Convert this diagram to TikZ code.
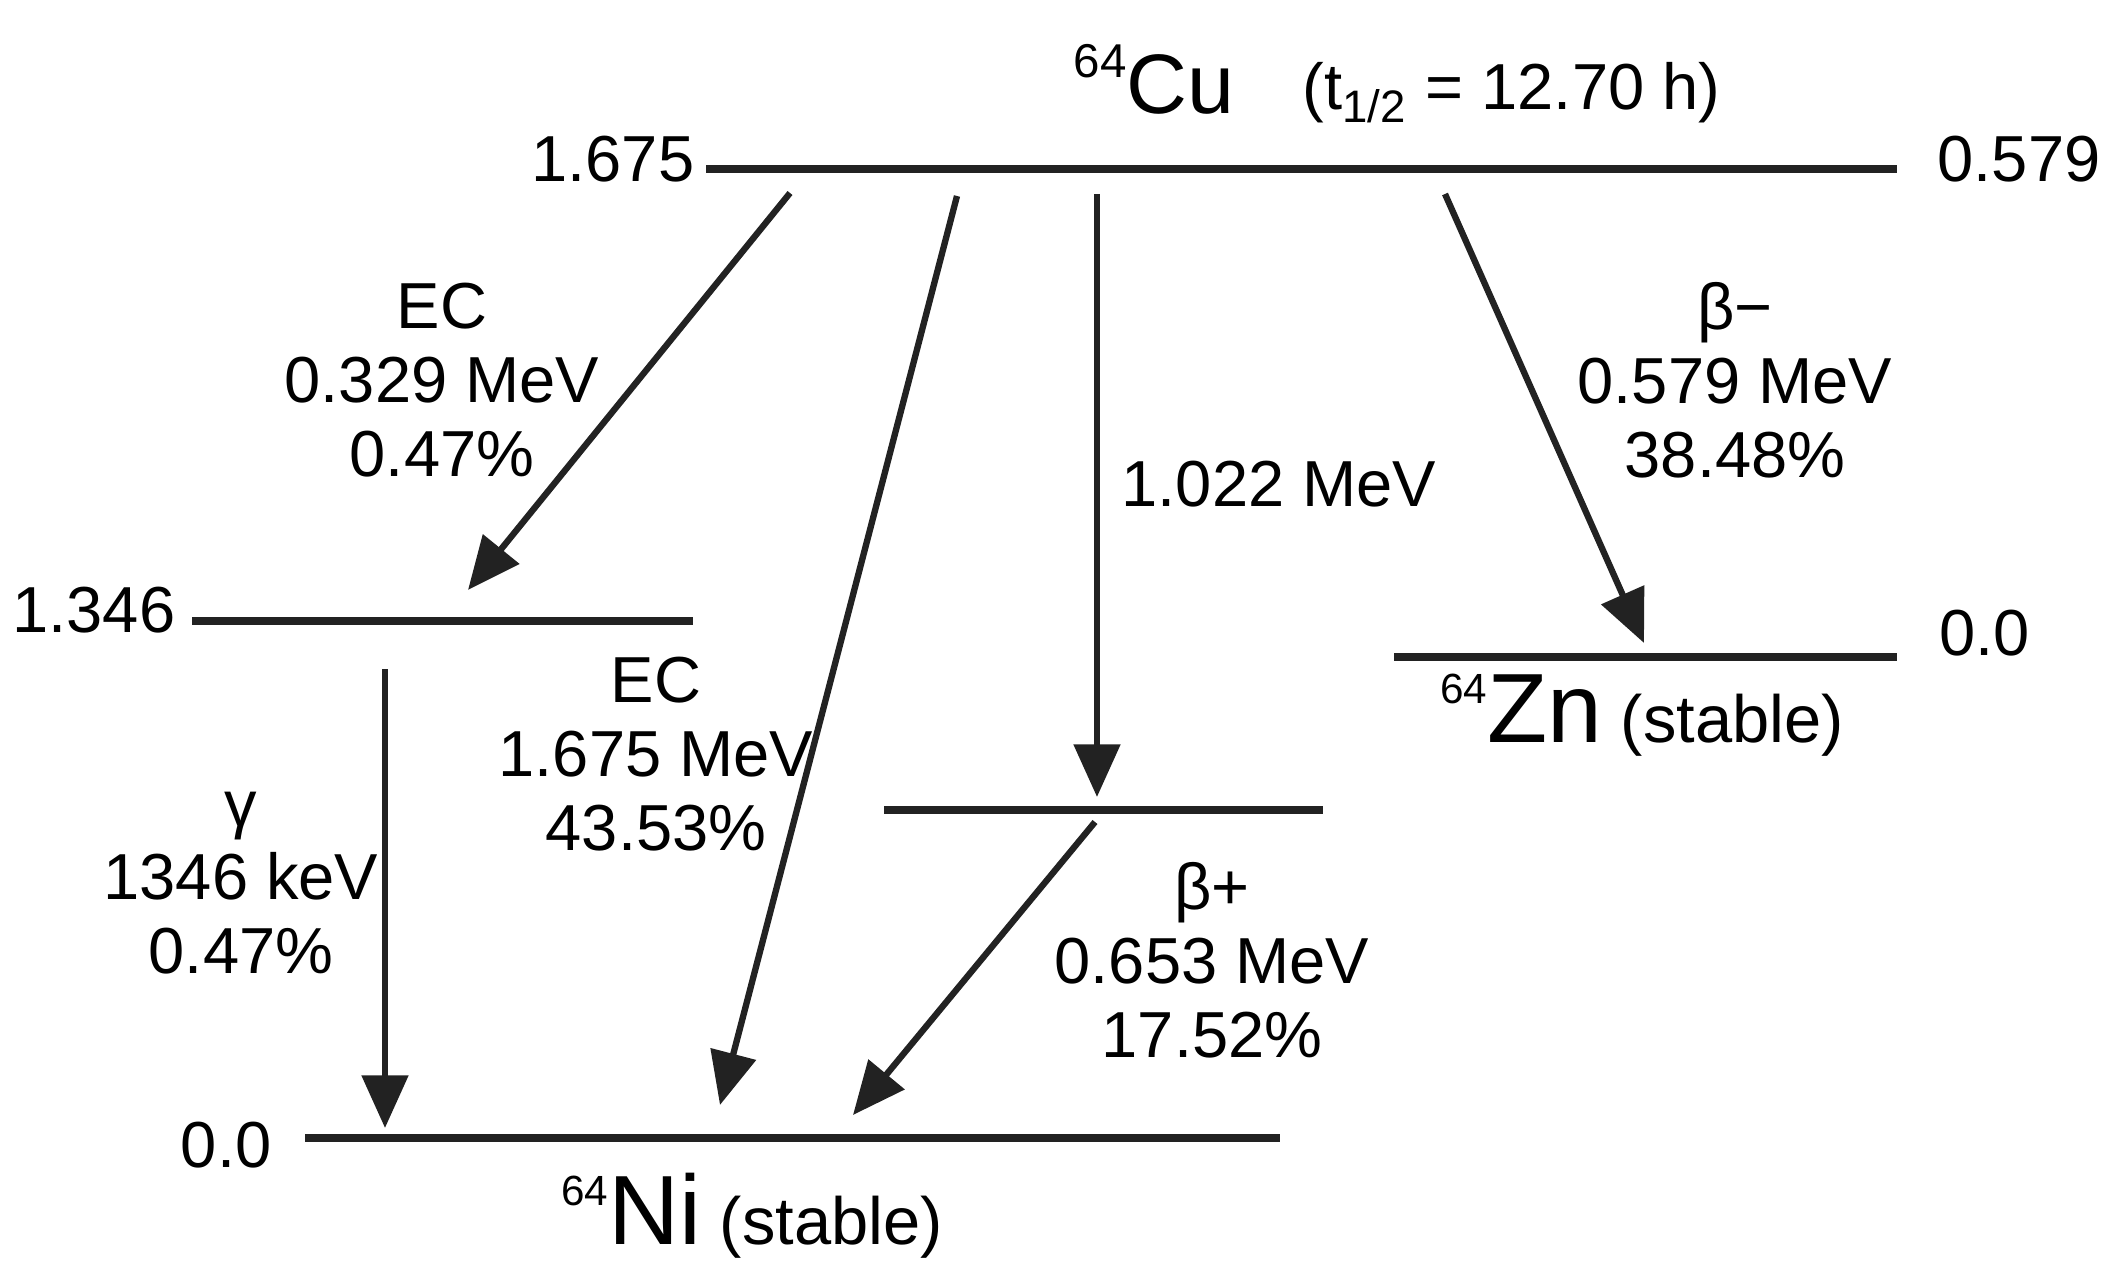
\documentclass[tikz,border=0pt]{standalone}
\usepackage{fontspec}
\setmainfont{Liberation Sans}
\usetikzlibrary{arrows.meta}
\definecolor{ink}{HTML}{222222}
\newcommand\massno[3]{\raisebox{#3}{\fontsize{#2}{#2}\selectfont #1}}

\begin{document}
\begin{tikzpicture}
      [%%%%%%%%%%%%%%%%%%%%%%%%%%%%%%
          x=0.01cm, y=-0.01cm,
          lvl/.style={draw=ink, line width=2.4pt},
          decay/.style={draw=ink, line width=1.8pt, -{Triangle[length=15pt,width=13pt]}},
          lbl/.style={inner sep=0pt, align=center, font=\fontsize{18.5}{21}\selectfont},
          iso/.style={inner sep=0pt, font=\fontsize{19}{22}\selectfont}
      ]%%%%%%%%%%%%%%%%%%%%%%%%%%%%%%

  \useasboundingbox (0,0) rectangle (2117,1273);

  % energy levels
  \foreach \xa/\xb/\y/\n in {706/1897/169/cu, 192/693/621/ex, 1394/1897/657/zn,
                             884/1323/810/mid, 305/1280/1138/ni}
      \draw[lvl] (\xa,\y) coordinate (\n-l) -- (\xb,\y) coordinate (\n-r);

  % level values
  \node[lbl, anchor=base east] (e-cu)  at (695,182)  {1.675};
  \node[lbl, anchor=base west] (e-cuz) at (1937,182) {0.579};
  \node[lbl, anchor=base east] (e-ex)  at (176,632)  {1.346};
  \node[lbl, anchor=base west] (e-zn)  at (1939,656) {0.0};
  \node[lbl, anchor=base east] (e-ni)  at (272,1167) {0.0};

  % nuclides
  \node[iso, anchor=base west] (cu) at (1073,114)
      {\massno{64}{13.5}{10.3pt}\fontsize{24}{26}\selectfont Cu};
  \node[iso, anchor=base west] (half) at (1302,110)
      {\fontsize{18.5}{21}\selectfont(t\textsubscript{1/2} = 12.70 h)};
  \node[iso, anchor=base] (zn) at (1642,742)
      {\massno{64}{12}{11pt}{\fontsize{28}{30}\selectfont Zn} (stable)};
  \node[iso, anchor=base] (ni) at (752,1244)
      {\massno{64}{12}{11pt}{\fontsize{28}{30}\selectfont Ni} (stable)};

  % transitions
  \coordinate (ec1-s) at (790,193);   \coordinate (ec1-e) at (468,590);
  \coordinate (ec2-s) at (957,196);   \coordinate (ec2-e) at (720,1105);
  \coordinate (pp-s)  at (1097,194);  \coordinate (pp-e)  at (1097,797);
  \coordinate (bm-s)  at (1445,194);  \coordinate (bm-e)  at (1644,643);
  \coordinate (ga-s)  at (385,669);   \coordinate (ga-e)  at (385,1128);
  \coordinate (bp-s)  at (1095,822);  \coordinate (bp-e)  at (853,1115);

  \foreach \t in {ec1,ec2,pp,bm,ga,bp}
      \draw[decay] (\t-s) -- (\t-e);

  \node[lbl] (l-ec1) at (442,380)  {EC\\0.329 MeV\\0.47\%};
  \node[lbl] (l-ec2) at (656,754)  {EC\\1.675 MeV\\43.53\%};
  \node[lbl] (l-bm)  at (1735,380) {β−\\0.579 MeV\\38.48\%};
  \node[lbl] (l-bp)  at (1212,960) {β+\\0.653 MeV\\17.52\%};
  \node[lbl] (l-ga)  at (241,883)  {γ\\1346 keV\\0.47\%};
  \node[lbl, anchor=base west] (l-pp) at (1121,506) {1.022 MeV};

\end{tikzpicture}
\end{document}
